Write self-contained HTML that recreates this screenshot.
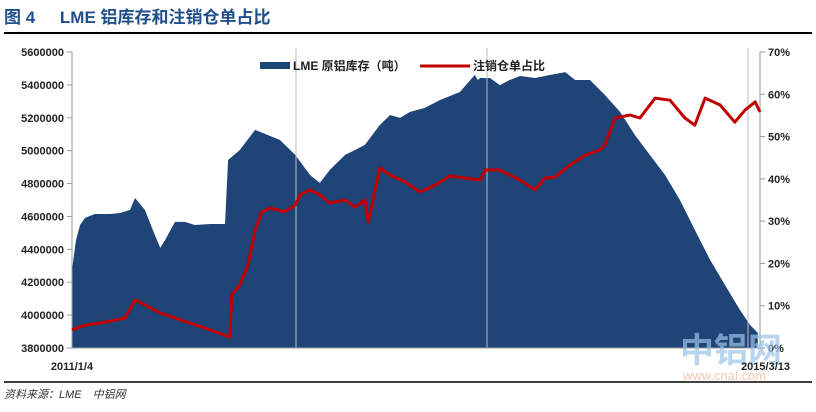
<!DOCTYPE html>
<html><head><meta charset="utf-8"><style>
body{margin:0;background:#fff;width:816px;height:407px;overflow:hidden;font-family:"Liberation Sans","Noto Sans CJK SC",sans-serif}
</style></head><body>
<svg width="816" height="407" xmlns="http://www.w3.org/2000/svg">
<text x="4" y="23" font-size="17" font-weight="bold" fill="#1f4e8c" font-family="Liberation Sans,Noto Sans CJK SC,sans-serif">图 4 <tspan dx="20">LME 铝库存和注销仓单占比</tspan></text>
<line x1="4" y1="33" x2="812" y2="33" stroke="#000" stroke-width="2"/>
<line x1="4" y1="382" x2="812" y2="382" stroke="#000" stroke-width="1.5"/>
<text x="4" y="398" font-size="11" font-style="italic" fill="#333">资料来源：LME　中铝网</text>
<g id="plot"></g>
</svg>
<script>
const invDays=[0,9,18,29,51,84,107,129,140,162,184,196,207,229,251,273,307,340,347,373,407,429,462,496,529,551,573,607,629,651,684,707,729,751,784,818,862,895,902,907,929,951,973,996,1029,1062,1096,1118,1151,1184,1218,1251,1284,1318,1351,1384,1418,1451,1484,1507,1524];
const invValues=[4275,4457,4548,4591,4615,4615,4621,4640,4712,4640,4488,4409,4457,4567,4567,4548,4554,4554,4943,5004,5126,5102,5065,4974,4852,4804,4883,4974,5004,5035,5156,5217,5199,5235,5260,5308,5357,5460,5430,5442,5442,5399,5430,5454,5442,5460,5478,5430,5430,5339,5235,5095,4974,4852,4700,4518,4336,4184,4032,3940,3892];
const ratioDays=[0,29,62,96,118,140,162,196,229,262,307,351,355,373,391,407,422,440,473,496,507,529,551,573,607,629,651,658,684,707,740,773,807,840,873,907,918,951,996,1029,1051,1073,1107,1140,1173,1184,1207,1240,1262,1296,1329,1362,1384,1407,1440,1473,1496,1518,1529];
const ratioValues=[4.3,5.4,5.9,6.6,7.1,11.4,10.2,8.3,7.1,5.9,4.3,2.6,12.5,14.9,19.6,27.9,32.2,33.1,32.2,33.8,36.2,37.4,36.2,34.3,35.0,33.3,35.0,29.8,42.6,40.9,39.3,36.9,38.5,40.7,40.2,39.7,42.1,42.1,39.7,37.4,40.2,40.4,43.3,45.6,46.8,48.0,54.4,55.1,54.4,59.1,58.6,54.4,52.7,59.1,57.5,53.4,56.3,58.2,55.8,54.4];
const leftTicks=[5600000,5400000,5200000,5000000,4800000,4600000,4400000,4200000,4000000,3800000];
const rightTicks=["0%","10%","20%","30%","40%","50%","60%","70%"];
const xLabels=["2011/1/4","2015/3/13"];
const X0=72,X1=760,Y0=52,Y1=348,DMAX=1529;
const x=d=>X0+(d/DMAX)*(X1-X0);
const yL=v=>Y1-(v-3800)/1800*(Y1-Y0);
const yR=p=>Y1-p/70*(Y1-Y0);
const NS="http://www.w3.org/2000/svg",g=document.getElementById('plot');
function mk(t,a){const e=document.createElementNS(NS,t);for(const k in a)e.setAttribute(k,a[k]);g.appendChild(e);return e;}
// area
let d=`M${x(invDays[0])},${Y1}`;invDays.forEach((t,i)=>{d+=`L${x(t).toFixed(1)},${yL(invValues[i]).toFixed(1)}`});d+=`L${x(invDays[invDays.length-1])},${Y1}Z`;
const area=mk('path',{d:d,fill:'#1f4478'});


[296,487,748].forEach(px=>{const l=mk('line',{x1:px,x2:px,y1:48,y2:348,stroke:'#bbb','stroke-width':1});

});
// axes
const ax=mk('line',{x1:X0,x2:X0,y1:Y0,y2:Y1,stroke:'#999'});
const ar=mk('line',{x1:X1,x2:X1,y1:Y0,y2:Y1,stroke:'#999'});
const ab=mk('line',{x1:X0,x2:X1,y1:Y1,y2:Y1,stroke:'#999'});
leftTicks.forEach(v=>{const y=yL(v/1000);mk('line',{x1:X0-5,x2:X0,y1:y,y2:y,stroke:'#999'});
const t=mk('text',{x:X0-8,y:y+4,'text-anchor':'end','font-size':11,'font-weight':'bold',fill:'#222'});t.textContent=v;
});
rightTicks.forEach((s,i)=>{const y=yR(i*10);mk('line',{x1:X1,x2:X1+5,y1:y,y2:y,stroke:'#999'});
const t=mk('text',{x:X1+8,y:y+4,'font-size':11,'font-weight':'bold',fill:'#222'});t.textContent=s;
});
// watermark
const w1=mk('text',{x:680,y:362,'font-size':34,'font-weight':'bold',fill:'#9cc3e6',opacity:0.7});w1.textContent='中铝网';
const w2=mk('text',{x:683,y:380,'font-size':13,fill:'#f2b99a',opacity:0.8});w2.textContent='www.cnal.com';
[[X0,xLabels[0],'middle'],[X1,xLabels[1],'end']].forEach(([px,s,a])=>{const t=mk('text',{x:a==='end'?X1+30:px,y:370,'text-anchor':a,'font-size':11,'font-weight':'bold',fill:'#222'});t.textContent=s;
});
// ratio line
let p='';ratioDays.forEach((t,i)=>{p+=(i?'L':'M')+x(t).toFixed(1)+','+yR(ratioValues[i]).toFixed(1)});
const rl=mk('path',{d:p,fill:'none',stroke:'#c00000','stroke-width':3,'stroke-linejoin':'round'});

// legend
const lr=mk('rect',{x:260,y:62,width:30,height:7,fill:'#1f4478'});
const lt=mk('text',{x:293,y:70,'font-size':12,'font-weight':'bold',fill:'#222'});lt.textContent='LME 原铝库存（吨）';
const ll=mk('line',{x1:420,x2:470,y1:66,y2:66,stroke:'#c00000','stroke-width':3});
const lt2=mk('text',{x:473,y:70,'font-size':12,'font-weight':'bold',fill:'#222'});lt2.textContent='注销仓单占比';
</script>
</body></html>
